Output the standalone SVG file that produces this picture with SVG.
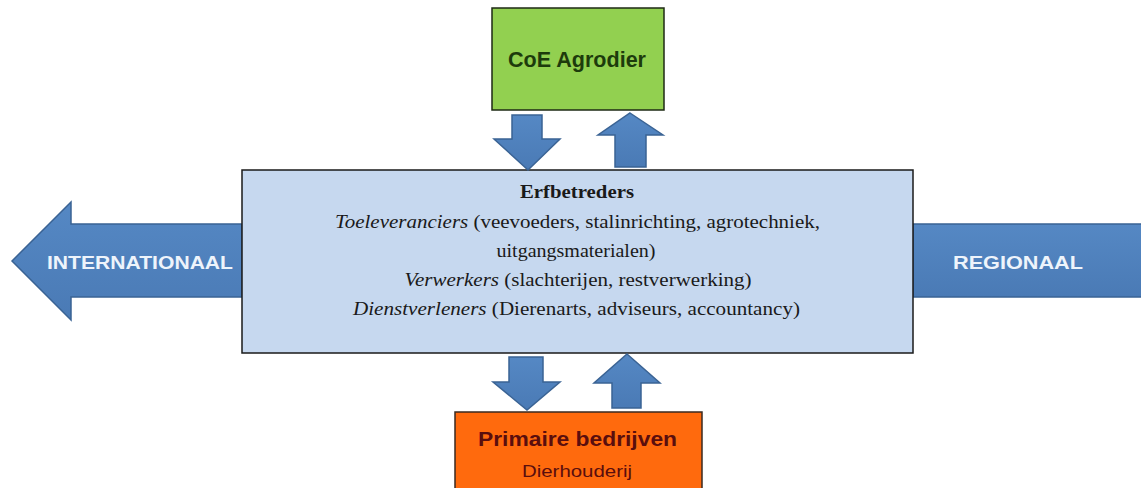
<svg xmlns="http://www.w3.org/2000/svg" width="1141" height="488" viewBox="0 0 1141 488">
  <defs>
    <linearGradient id="blueGrad" x1="0" y1="0" x2="0" y2="1">
      <stop offset="0" stop-color="#5588C4"/>
      <stop offset="1" stop-color="#4A7AB5"/>
    </linearGradient>
  </defs>
  <style>
    .arrow { fill: url(#blueGrad); stroke: #3A6394; stroke-width: 1.5; stroke-linejoin: miter; }
    .serif { font-family: "Liberation Serif", "Times New Roman", serif; font-size: 19px; fill: #1a1a1a; }
    .sans { font-family: "Liberation Sans", Arial, sans-serif; font-weight: bold; }
    .arrowLabel { font-family: "Liberation Sans", Arial, sans-serif; font-weight: bold; font-size: 18px; fill: #EEF4FB; }
  </style>
  <rect x="0" y="0" width="1141" height="488" fill="#FFFFFF"/>

  <g id="internationaal">
    <polygon class="arrow" points="12,261 71,202 71,224 242,224 242,297 71,297 71,320"/>
    <text class="arrowLabel" x="140" y="269" text-anchor="middle" textLength="186" lengthAdjust="spacingAndGlyphs">INTERNATIONAAL</text>
  </g>

  <g id="regionaal">
    <rect class="arrow" x="913" y="224" width="240" height="73"/>
    <text class="arrowLabel" x="1018" y="269" text-anchor="middle" textLength="130" lengthAdjust="spacingAndGlyphs">REGIONAAL</text>
  </g>

  <g id="coe-agrodier">
    <rect x="492" y="8" width="172" height="102" fill="#92D050" stroke="#1E2A14" stroke-width="1.5"/>
    <text class="sans" x="577" y="67" text-anchor="middle" font-size="22" fill="#1D3B0C" textLength="138" lengthAdjust="spacingAndGlyphs">CoE Agrodier</text>
  </g>

  <g id="erfbetreders">
    <rect x="242" y="170" width="671" height="183" fill="#C6D8EF" stroke="#1a1a1a" stroke-width="1.5"/>
    <text class="serif" x="577" y="198" text-anchor="middle" font-weight="bold" textLength="114" lengthAdjust="spacingAndGlyphs">Erfbetreders</text>
    <text class="serif" x="577.5" y="228" text-anchor="middle" textLength="485" lengthAdjust="spacingAndGlyphs"><tspan font-style="italic">Toeleveranciers</tspan> (veevoeders,  stalinrichting,  agrotechniek,</text>
    <text class="serif" x="576" y="257" text-anchor="middle" textLength="159" lengthAdjust="spacingAndGlyphs">uitgangsmaterialen)</text>
    <text class="serif" x="578" y="286" text-anchor="middle" textLength="347" lengthAdjust="spacingAndGlyphs"><tspan font-style="italic">Verwerkers</tspan> (slachterijen,  restverwerking)</text>
    <text class="serif" x="576.5" y="315" text-anchor="middle" textLength="447" lengthAdjust="spacingAndGlyphs"><tspan font-style="italic">Dienstverleners</tspan> (Dierenarts, adviseurs, accountancy)</text>
  </g>

  <g id="primaire-bedrijven">
    <rect x="455" y="412" width="247" height="82" fill="#FF6A0D" stroke="#3a2a20" stroke-width="1.5"/>
    <text class="sans" x="577.5" y="446" text-anchor="middle" font-size="21" fill="#5A0E0E" textLength="199" lengthAdjust="spacingAndGlyphs">Primaire bedrijven</text>
    <text x="577" y="477" text-anchor="middle" font-family="Liberation Sans, Arial, sans-serif" font-size="17" fill="#5A0E0E" textLength="110" lengthAdjust="spacingAndGlyphs">Dierhouderij</text>
  </g>

  <g id="connectors">
    <polygon class="arrow" points="512,115 542,115 542,139 560,139 528,170 494,139 512,139"/>
    <polygon class="arrow" points="630,113 663,135 646,135 646,167 615,167 615,135 598,135"/>
    <polygon class="arrow" points="509,357 543,357 543,382 560,382 527,410 493,382 509,382"/>
    <polygon class="arrow" points="627,354 660,383 641,383 641,408 612,408 612,383 594,383"/>
  </g>
</svg>
